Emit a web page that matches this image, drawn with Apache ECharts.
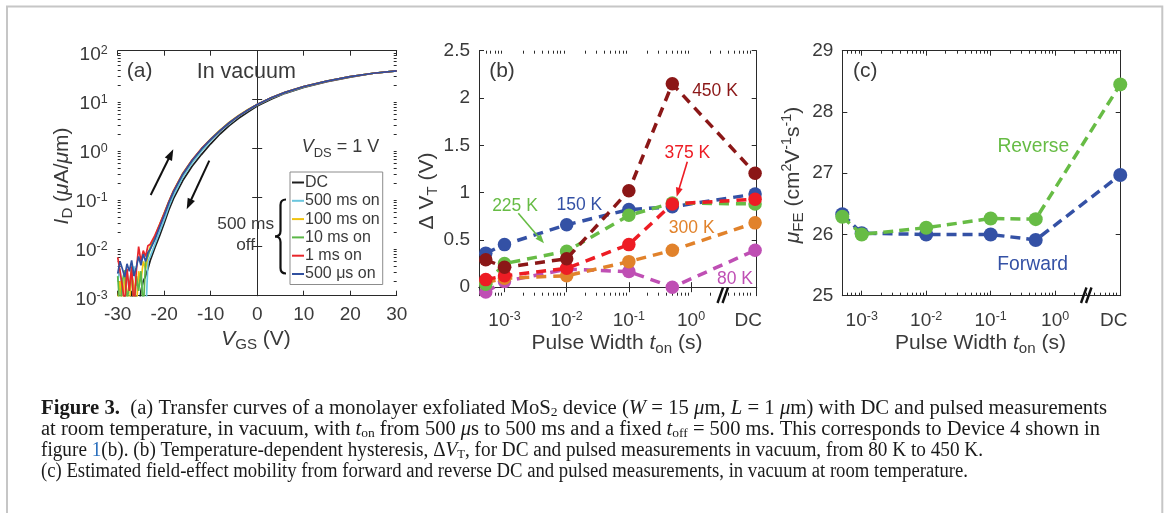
<!DOCTYPE html>
<html><head><meta charset="utf-8">
<script src="https://cdn.jsdelivr.net/npm/echarts@6/dist/echarts.min.js"></script>
<style>html,body{margin:0;padding:0;background:#fff}#c{width:1168px;height:513px}</style>
</head><body><div id="c"></div>
<script>
// ---------------- Panel (a): transfer curves, log10(I_D / (uA/um))
const vgs = [-30,-29.5,-29,-28.5,-28,-27.5,-27,-26.5,-26,-25.5,-25,-24.5,-24,-23.5,
  -23,-22,-21,-20,-19,-18,-16,-14,-12,-10,-8,-6,-4,-2,0,3,6,10,15,20,25,30];
const logI_DC    = [-3.3,-3.1,-3.4,-3.0,-3.3,-3.2,-2.9,-3.4,-3.0,-3.3,-2.9,-2.7,-2.6,-2.45,
  -2.28,-2.02,-1.78,-1.52,-1.25,-1.02,-0.65,-0.36,-0.12,0.1,0.3,0.47,0.62,0.75,0.87,1.01,1.13,1.25,1.37,1.46,1.54,1.59];
const logI_500ms = [-2.7,-2.45,-3.0,-2.6,-2.5,-2.9,-2.65,-2.4,-2.8,-2.6,-2.55,-3.1,-3.5,-2.3,
  -2.2,-1.95,-1.7,-1.45,-1.18,-0.95,-0.58,-0.29,-0.05,0.16,0.35,0.51,0.66,0.78,0.89,1.03,1.14,1.26,1.38,1.47,1.54,1.59];
const logI_100ms = [-3.1,-2.7,-3.3,-2.6,-2.9,-3.2,-2.55,-2.8,-3.3,-2.5,-2.7,-2.3,-2.45,-2.15,
  -2.0,-1.8,-1.55,-1.32,-1.08,-0.86,-0.5,-0.23,0.0,0.2,0.38,0.54,0.68,0.8,0.9,1.04,1.15,1.27,1.38,1.47,1.54,1.59];
const logI_10ms  = [-2.6,-3.3,-2.7,-2.48,-3.1,-2.8,-2.45,-3.4,-2.6,-2.9,-2.5,-3.3,-2.3,-2.2,
  -2.05,-1.82,-1.57,-1.33,-1.09,-0.87,-0.52,-0.24,-0.01,0.19,0.37,0.53,0.67,0.79,0.9,1.04,1.15,1.27,1.38,1.47,1.54,1.59];
const logI_1ms   = [-2.22,-2.5,-2.8,-3.2,-2.45,-2.9,-2.4,-3.3,-2.5,-2.0,-2.3,-2.08,-2.2,-1.98,
  -1.95,-1.77,-1.55,-1.32,-1.08,-0.86,-0.51,-0.23,0.0,0.19,0.37,0.53,0.67,0.79,0.9,1.04,1.15,1.27,1.38,1.47,1.54,1.59];
const logI_500us = [-2.55,-2.3,-2.45,-2.62,-2.35,-2.5,-2.28,-2.6,-2.42,-2.2,-2.38,-2.15,-2.3,-2.12,
  -2.05,-1.85,-1.6,-1.36,-1.1,-0.88,-0.52,-0.24,-0.01,0.19,0.37,0.53,0.67,0.79,0.9,1.04,1.15,1.27,1.38,1.47,1.54,1.59];
const transferNames  = ['DC','500 ms on','100 ms on','10 ms on','1 ms on','500 μs on'];
const transferColors = ['#1e1e1e','#6ac6de','#f0c20e','#5cb848','#e8262b','#30509f'];
const transferLogs   = [logI_DC, logI_500ms, logI_100ms, logI_10ms, logI_1ms, logI_500us];
const yTicksA = [1e-3, 1e-2, 1e-1, 1, 10, 100];

// ---------------- Panel (b): hysteresis dV_T (V)
const pulseWidths = [5e-4, 1e-3, 1e-2, 1e-1, 0.5, 'DC'];
const pulseTicks  = [1e-3, 1e-2, 1e-1, 1];
const tempNames   = ['80 K','300 K','150 K','225 K','375 K','450 K'];
const tempColors  = ['#bf4fb4','#e1822b','#3451a5','#67bc45','#ed1c24','#8b1717'];
const dVT_80K  = [-0.05, 0.06, 0.19, 0.165, 0.0, 0.39];
const dVT_300K = [0.05, 0.095, 0.12, 0.27, 0.39, 0.68];
const dVT_150K = [0.36, 0.45, 0.66, 0.82, 0.85, 0.985];
const dVT_225K = [0.03, 0.25, 0.38, 0.76, 0.89, 0.88];
const dVT_375K = [0.08, 0.12, 0.20, 0.45, 0.88, 0.93];
const dVT_450K = [0.29, 0.21, 0.30, 1.02, 2.15, 1.205];
const dVTseries = [dVT_80K, dVT_300K, dVT_150K, dVT_225K, dVT_375K, dVT_450K];
const yTicksB = [0, 0.5, 1, 1.5, 2, 2.5];

// ---------------- Panel (c): field-effect mobility (cm2/Vs)
const muNames  = ['Forward','Reverse'];
const muColors = ['#3451a5','#67bc45'];
const mu_forward = [26.33, 26.02, 26.0, 26.0, 25.91, 26.97];
const mu_reverse = [26.29, 26.0, 26.11, 26.26, 26.25, 28.45];
const yTicksC = [25, 26, 27, 28, 29];

// ---------------- layout constants
const TXT = '#3a3a3a', AX = '#2a2a2a';
const SANS = '"Liberation Sans", Arial, Helvetica, sans-serif';
const SERIF = '"Liberation Serif", "Times New Roman", serif';
const G = [ {left:117.7, top:50.7, width:279, height:245},
            {left:479,   top:50.7, width:277.7, height:245},
            {left:842.3, top:50.7, width:278.4, height:245} ];
const B_MIN = Math.pow(10,-3.41), B_MAX = Math.pow(10,1.056), B_DC = Math.pow(10,1.03), B_DCLAB = Math.pow(10,0.92);
const C_MIN = 5e-4, C_MAX = Math.pow(10,1.017), C_DC = Math.pow(10,1.01), C_DCLAB = Math.pow(10,0.91);

function decadeMinors(lo, hi){ const v=[]; for(let n=lo;n<=hi;n++) for(let k=2;k<=9;k++) v.push(+(k*Math.pow(10,n)).toPrecision(4)); return v; }

const lineSt = {color: AX, width: 1};
const supRich = {
  b: {fontSize:19, lineHeight:22, fontFamily:SANS, color:TXT, verticalAlign:'middle'},
  s: {fontSize:12.5, lineHeight:8, fontFamily:SANS, color:TXT, verticalAlign:'top'}
};
function powLabel(v){ const e = Math.round(Math.log10(v)); return '{b|10}{s|' + e + '}'; }

function logX(grid, min, max, pos, ticks, len, showLine, labels, dcLab){
  const ax = {gridIndex:grid, type:'log', logBase:10, min, max, position:pos,
    axisLine:{show:showLine, lineStyle:lineSt},
    axisTick:{show:true, inside:true, length:len, customValues:ticks, lineStyle:lineSt},
    axisLabel:{show:false}, splitLine:{show:false}, axisPointer:{show:false}};
  if (labels){
    ax.axisLabel = {show:true, customValues: ticks.concat([dcLab]), margin:14,
      formatter: v => v > 3 ? '{b|DC}' : powLabel(v), rich: supRich};
  }
  return ax;
}
function valY(grid, min, max, pos, ticks, labels){
  return {gridIndex:grid, type:'value', min, max, position:pos,
    axisLine:{show:true, lineStyle:lineSt},
    axisTick:{show:true, inside:true, length:5, customValues:ticks, lineStyle:lineSt},
    axisLabel: labels ? {show:true, customValues:ticks, margin:9, fontSize:19, fontFamily:SANS, color:TXT} : {show:false},
    splitLine:{show:false}, axisPointer:{show:false}};
}
function logYA(pos, ticks, len, showLine, labels){
  return {gridIndex:0, type:'log', logBase:10, min:1e-3, max:100, position:pos,
    axisLine:{show:showLine, lineStyle:lineSt},
    axisTick:{show:true, inside:true, length:len, customValues:ticks, lineStyle:lineSt},
    axisLabel: labels ? {show:true, customValues:ticks, margin:10, padding:[8,0,0,0], formatter: powLabel, rich: supRich} : {show:false},
    splitLine:{show:false}, axisPointer:{show:false}};
}
const minorsB = decadeMinors(-4, 0);

const xAxis = [
  {gridIndex:0, type:'value', min:-30, max:30, interval:10, position:'bottom',
   axisLine:{lineStyle:lineSt}, axisTick:{inside:true, length:5, lineStyle:lineSt},
   axisLabel:{margin:10, fontSize:19, fontFamily:SANS, color:TXT}, splitLine:{show:false}},
  {gridIndex:0, type:'value', min:-30, max:30, interval:10, position:'top',
   axisLine:{lineStyle:lineSt}, axisTick:{inside:true, length:5, lineStyle:lineSt},
   axisLabel:{show:false}, splitLine:{show:false}},
  logX(1, B_MIN, B_MAX, 'bottom', pulseTicks, 5, true, true, B_DCLAB),
  logX(1, B_MIN, B_MAX, 'top', pulseTicks, 5, true, false),
  logX(1, B_MIN, B_MAX, 'bottom', minorsB, 3, false, false),
  logX(1, B_MIN, B_MAX, 'top', minorsB, 3, false, false),
  logX(2, C_MIN, C_MAX, 'bottom', pulseTicks, 5, true, true, C_DCLAB),
  logX(2, C_MIN, C_MAX, 'top', pulseTicks, 5, true, false),
  logX(2, C_MIN, C_MAX, 'bottom', minorsB, 3, false, false),
  logX(2, C_MIN, C_MAX, 'top', minorsB, 3, false, false)
];
const minorsA = decadeMinors(-3, 1);
const yAxis = [
  logYA('left', yTicksA, 5, true, true),
  logYA('right', yTicksA, 5, true, false),
  logYA('left', minorsA, 3, false, false),
  logYA('right', minorsA, 3, false, false),
  valY(1, -0.09, 2.5, 'left', yTicksB, true),
  valY(1, -0.09, 2.5, 'right', yTicksB, false),
  valY(2, 25, 29, 'left', yTicksC, true),
  valY(2, 25, 29, 'right', yTicksC, false)
];

const series = [];
transferLogs.forEach((arr, i) => {
  series.push({type:'line', name:transferNames[i], xAxisIndex:0, yAxisIndex:0,
    data: vgs.map((v, j) => [v, Math.pow(10, arr[j])]),
    symbol:'none', showSymbol:false, lineStyle:{color:transferColors[i], width:1.7}, itemStyle:{color:transferColors[i]},
    clip:true, z:2+i});
});
function xPulse(t, dc){ return t === 'DC' ? dc : t; }
dVTseries.forEach((arr, i) => {
  series.push({type:'line', name:tempNames[i], xAxisIndex:2, yAxisIndex:4,
    data: pulseWidths.map((t, j) => [xPulse(t, B_DC), arr[j]]),
    symbol:'circle', symbolSize:13.5, clip:false,
    lineStyle:{color:tempColors[i], width:3.5, type:[10,7]}, itemStyle:{color:tempColors[i]}, z:10+i});
});
[mu_forward, mu_reverse].forEach((arr, i) => {
  series.push({type:'line', name:muNames[i], xAxisIndex:6, yAxisIndex:6,
    data: pulseWidths.map((t, j) => [xPulse(t, C_DC), arr[j]]),
    symbol:'circle', symbolSize:14, clip:false,
    lineStyle:{color:muColors[i], width:3.5, type:[10,6]}, itemStyle:{color:muColors[i]}, z:10+i});
});

// ---------------- graphic annotations
function T(x, y, text, o){
  o = o || {};
  return {type:'text', x, y, z:100, rotation:o.rot||0,
    style:{text, fontSize:o.size||18, fontFamily:o.family||SANS, fill:o.color||TXT,
      fontStyle:o.italic?'italic':'normal',
      align:o.align||'center', textAlign:o.align||'center',
      verticalAlign:'middle', textVerticalAlign:'middle', rich:o.rich}};
}
function L(x1,y1,x2,y2,color,w){ return {type:'line', z:100, shape:{x1,y1,x2,y2}, style:{stroke:color, lineWidth:w}}; }
function Q(x1,y1,cx,cy,x2,y2,color,w){ return {type:'bezierCurve', z:100, shape:{x1,y1,cpx1:cx,cpy1:cy,x2,y2}, style:{stroke:color, lineWidth:w, fill:'none'}}; }
function arrow(x1,y1,x2,y2,color,w,hl,hw){
  const a = Math.atan2(y2-y1, x2-x1);
  const bx = x2-hl*Math.cos(a), by = y2-hl*Math.sin(a);
  const px = -Math.sin(a)*hw/2, py = Math.cos(a)*hw/2;
  return [L(x1,y1,bx+Math.cos(a),by+Math.sin(a),color,w),
          {type:'polygon', z:100, shape:{points:[[x2,y2],[bx+px,by+py],[bx-px,by-py]]}, style:{fill:color}}];
}
function brk(x, y){
  return [L(x, y+7.5, x+5.5, y-8, '#111', 2.4), L(x+5, y+7.5, x+10.5, y-8, '#111', 2.4)];
}
const titleRich = (size) => ({
  n:{fontSize:size, lineHeight:26, fontFamily:SANS, fill:TXT, color:TXT},
  i:{fontSize:size, lineHeight:26, fontFamily:SANS, fontStyle:'italic', fill:TXT, color:TXT},
  d:{fontSize:size*0.72, lineHeight:6, fontFamily:SANS, fill:TXT, color:TXT, verticalAlign:'bottom'},
  u:{fontSize:size*0.68, lineHeight:6, fontFamily:SANS, fill:TXT, color:TXT, verticalAlign:'top'}
});
const braceC = '#111', braceW = 2.2;
const graphics = [
  {type:'rect', z:0, shape:{x:7, y:6.5, width:1155.3, height:530}, style:{fill:'none', stroke:'#c6c6c6', lineWidth:2}},
  T(139.7, 71.7, '(a)', {size:21}),
  T(246.3, 71.7, 'In vacuum', {size:21.5}),
  T(502, 71.7, '(b)', {size:21}),
  T(865.3, 71.7, '(c)', {size:21}),
  T(301.7, 146.7, '{i|V}{d|DS}{n| = 1 V}', {align:'left', rich:titleRich(18)}),
  T(245.7, 224.3, '500 ms', {size:17.3}),
  T(245.7, 245.5, 'off', {size:17.3}),
  Q(286,199.5,280.5,199.5,280.5,205,braceC,braceW),
  L(280.5,205,280.5,231,braceC,braceW),
  Q(280.5,231,280.5,236.5,275,236.5,braceC,braceW),
  Q(275,236.5,280.5,236.5,280.5,242,braceC,braceW),
  L(280.5,242,280.5,268,braceC,braceW),
  Q(280.5,268,280.5,273.5,286,273.5,braceC,braceW),
  ...arrow(150.7,195,173.3,149.3,'#111',2,11,8),
  ...arrow(209.3,160.7,186.7,209.3,'#111',2,11,8),
  T(715, 90.7, '450 K', {size:17.5, color:tempColors[5]}),
  T(687.3, 153.3, '375 K', {size:17.5, color:tempColors[4]}),
  T(691.7, 227.7, '300 K', {size:17.5, color:tempColors[1]}),
  T(735, 279.3, '80 K', {size:17.5, color:tempColors[0]}),
  T(515, 206, '225 K', {size:17.5, color:tempColors[3]}),
  T(579.3, 205, '150 K', {size:17.5, color:tempColors[2]}),
  ...arrow(518.3,213.3,544,243.3,tempColors[3],1.6,9,7),
  ...arrow(687.3,161.7,676.7,196.7,tempColors[4],1.6,9,7),
  T(1033.3, 146.7, 'Reverse', {size:19.3, color:muColors[1]}),
  T(1032.7, 264.3, 'Forward', {size:19.3, color:muColors[0]}),
  ...brk(717.5, 295.5),
  ...brk(1081, 295.5),
  T(256, 339, '{i|V}{d|GS}{n| (V)}', {rich:titleRich(21)}),
  T(617, 343, '{n|Pulse Width }{i|t}{d|on}{n| (s)}', {rich:titleRich(21)}),
  T(980.5, 343, '{n|Pulse Width }{i|t}{d|on}{n| (s)}', {rich:titleRich(21)}),
  T(62, 176, '{i|I}{d|D}{n| (}{i|μ}{n|A/}{i|μ}{n|m)}', {rot:Math.PI/2, rich:titleRich(21)}),
  T(427, 191, '{n|Δ V}{d|T}{n| (V)}', {rot:Math.PI/2, rich:titleRich(21)}),
  T(793, 175, '{i|μ}{d|FE}{n| (cm}{u|2}{n|V}{u|-1}{n|s}{u|-1}{n|)}', {rot:Math.PI/2, rich:titleRich(21)})
];

// ---------------- caption
const capLines = [
  [['B','Figure 3.'],['N','  (a) Transfer curves of a monolayer exfoliated MoS'],['S','2'],['N',' device ('],['I','W'],['N',' = 15 '],['I','μ'],['N','m, '],['I','L'],['N',' = 1 '],['I','μ'],['N','m) with DC and pulsed measurements']],
  [['N','at room temperature, in vacuum, with '],['I','t'],['S','on'],['N',' from 500 '],['I','μ'],['N','s to 500 ms and a fixed '],['I','t'],['S','off'],['N',' = 500 ms. This corresponds to Device 4 shown in']],
  [['N','figure '],['L','1'],['N','(b). (b) Temperature-dependent hysteresis, Δ'],['I','V'],['S','T'],['N',', for DC and pulsed measurements in vacuum, from 80 K to 450 K.']],
  [['N','(c) Estimated field-effect mobility from forward and reverse DC and pulsed measurements, in vacuum at room temperature.']]
];
const capTargets = [1066, 1059, 942, 927];
const capY = [409, 430, 451, 472];
const CAPF = 20.5;
const capRich = {
  N:{fontSize:CAPF, lineHeight:21, fontFamily:SERIF, fill:'#1a1a1a', color:'#1a1a1a'},
  B:{fontSize:CAPF, lineHeight:21, fontFamily:SERIF, fontWeight:'bold', fill:'#1a1a1a', color:'#1a1a1a'},
  I:{fontSize:CAPF, lineHeight:21, fontFamily:SERIF, fontStyle:'italic', fill:'#1a1a1a', color:'#1a1a1a'},
  S:{fontSize:13.5, lineHeight:10, fontFamily:SERIF, fill:'#1a1a1a', color:'#1a1a1a', verticalAlign:'bottom'},
  L:{fontSize:CAPF, lineHeight:21, fontFamily:SERIF, fill:'#2a6fbd', color:'#2a6fbd'}
};
const mctx = document.createElement('canvas').getContext('2d');
function segFont(k){ const r = capRich[k]; return (r.fontStyle==='italic'?'italic ':'') + (r.fontWeight==='bold'?'bold ':'') + r.fontSize + 'px ' + SERIF; }
capLines.forEach((segs, li) => {
  let w = 0, txt = '';
  segs.forEach(([k, t]) => { mctx.font = segFont(k); w += mctx.measureText(t).width; txt += '{' + k + '|' + t + '}'; });
  graphics.push({type:'text', x:41, y:capY[li], z:100, scaleX: capTargets[li] / w,
    style:{text:txt, rich:capRich, align:'left', textAlign:'left', verticalAlign:'middle', textVerticalAlign:'middle', fontFamily:SERIF, fontSize:CAPF}});
});

const chart = echarts.init(document.getElementById('c'), null, {renderer:'canvas'});
chart.setOption({
  animation:false,
  backgroundColor:'#fff',
  textStyle:{fontFamily:SANS},
  grid: G.map(g => Object.assign({containLabel:false, outerBoundsMode:'none'}, g)),
  xAxis, yAxis, series,
  legend:{orient:'vertical', left:290, top:172, data:transferNames, selectedMode:false,
    icon:'rect', itemWidth:12, itemHeight:2, itemGap:1.3, padding:[2,3,2,2],
    borderColor:'#8c8c8c', borderWidth:1, backgroundColor:'#fff', z:50,
    textStyle:{fontSize:16, fontFamily:SANS, color:TXT, lineHeight:17, padding:[0,0,0,-4]}},
  graphic: graphics
});
</script></body></html>
